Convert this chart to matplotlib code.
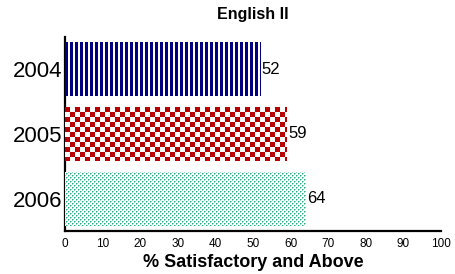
import numpy as np
import matplotlib.pyplot as plt
from matplotlib.colors import to_rgb

plt.rcParams['font.family'] = ['Liberation Sans', 'DejaVu Sans']

years = ['2004', '2005', '2006']
scores = [52, 59, 64]
patterns = ['stripes', 'checker', 'dots']
colors = ['#000080', '#B80000', '#1FB07E']


def make_pattern(kind, color, rows, cols):
    rgb = np.array(to_rgb(color))
    img = np.ones((rows, cols, 3))
    r, c = np.mgrid[0:rows, 0:cols]
    if kind == 'stripes':
        mask = (c % 5) < 3
        img[mask] = rgb
    elif kind == 'checker':
        mask = ((r // 5) + (c // 5)) % 2 == 0
        img[mask] = rgb
    else:
        core = ((r % 4 == 1) & (c % 4 == 1)) | ((r % 4 == 3) & (c % 4 == 3))
        side = ((r % 4 == 1) & (c % 4 == 2)) | ((r % 4 == 3) & (c % 4 == 0)) \
            | ((r % 4 == 2) & (c % 4 == 1)) | ((r % 4 == 0) & (c % 4 == 3))
        img[side] = 0.5 * rgb + 0.5
        img[core] = rgb
    return img


fig = plt.figure(figsize=(4.55, 2.74), dpi=100)
ax = fig.add_axes([65 / 455, 1 - 231 / 274, 376 / 455, 194 / 274])

ypos = np.arange(len(years))
h = 0.83
bars = ax.barh(ypos, scores, height=h, color='none', edgecolor='none', zorder=3)

px_per_unit = 376 / 100
px_h = int(round(h * 194 / 3))
for b, val, kind, col in zip(bars, scores, patterns, colors):
    img = make_pattern(kind, col, px_h, int(round(val * px_per_unit)))
    y0 = b.get_y()
    im = ax.imshow(img, extent=(0, val, y0 + h, y0), aspect='auto',
                   interpolation='nearest', zorder=2)
    im.set_clip_path(b)
    ax.text(val + 0.3, b.get_y() + h / 2, str(val), va='center', ha='left',
            fontsize=12)

ax.set_xlim(0, 100)
ax.set_ylim(2.5, -0.5)
ax.set_yticks(ypos)
ax.set_yticklabels(years, fontsize=16)
ax.set_xticks(np.arange(0, 101, 10))
ax.tick_params(axis='x', length=0, labelsize=8.5, pad=5)
ax.tick_params(axis='y', length=0, pad=2)
for s in ['top', 'right']:
    ax.spines[s].set_visible(False)
for s in ['left', 'bottom']:
    ax.spines[s].set_linewidth(1.6)
    ax.spines[s].set_color('black')
    ax.spines[s].set_zorder(1)

ax.set_xlabel('% Satisfactory and Above', fontsize=13, fontweight='bold', labelpad=3)
ax.set_title('English II', fontsize=11.5, fontweight='bold', pad=13)

fig.savefig('out.png', dpi=100)
